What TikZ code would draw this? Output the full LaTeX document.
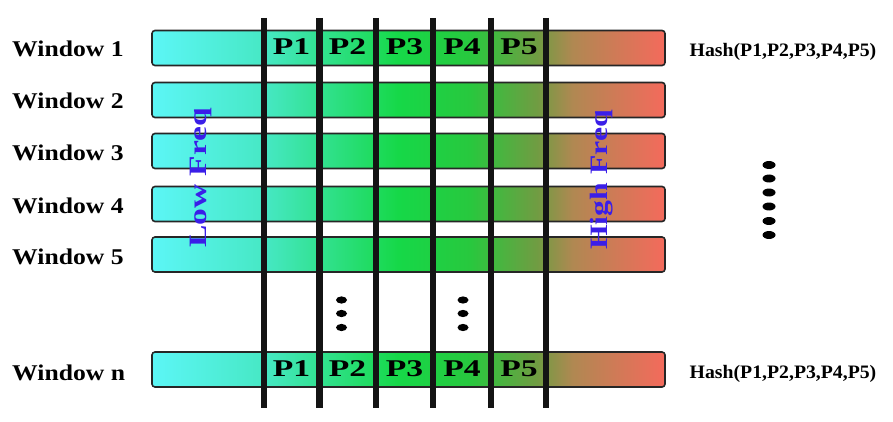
\documentclass[tikz,border=0pt]{standalone}
\usepackage{fontspec}
\setmainfont{Liberation Serif}
\definecolor{c0}{RGB}{92,246,246}
\definecolor{c1}{RGB}{70,232,196}
\definecolor{c2}{RGB}{22,216,72}
\definecolor{c3}{RGB}{40,200,62}
\definecolor{c4}{RGB}{112,156,66}
\definecolor{c5}{RGB}{176,136,82}
\definecolor{c6}{RGB}{244,106,92}
\definecolor{freqblue}{RGB}{58,30,232}
\pgfdeclarehorizontalshading{freq}{100bp}{color(0bp)=(c0); color(25bp)=(c0); color(36bp)=(c1); color(49bp)=(c2); color(56bp)=(c3); color(62.5bp)=(c4); color(66bp)=(c5); color(75bp)=(c6); color(100bp)=(c6)}
\begin{document}
\begin{tikzpicture}[x=1pt,y=-1pt,
  bar/.style={draw=black!85, line width=1.6pt, rounded corners=3pt, shade, shading=freq,
    minimum width=513pt, minimum height=35pt, inner sep=0pt},
  vline/.style={line width=6.5pt, black!92},
  winlab/.style={anchor=west, inner sep=0pt, font=\fontsize{22.5}{24}\selectfont\bfseries},
  plab/.style={inner sep=0pt, font=\fontsize{24}{26}\selectfont\bfseries},
  hashlab/.style={inner sep=0pt, font=\fontsize{19}{21}\selectfont\bfseries},
  freqlab/.style={inner sep=0pt, rotate=90, text=freqblue, font=\fontsize{25}{27}\selectfont\bfseries},
  dotbig/.style={fill=black, draw=none},
]
\useasboundingbox (0,0) rectangle (893,422);
% bars
\node[bar] (w1) at (408.5,48) {};
\node[bar] (w2) at (408.5,100) {};
\node[bar] (w3) at (408.5,151) {};
\node[bar] (w4) at (408.5,204) {};
\node[bar] (w5) at (408.5,254.5) {};
\node[bar] (wn) at (408.5,369.5) {};
% window labels
\node[winlab] (l1) at (12,49) {\scalebox{1.14}[1]{Window 1}};
\node[winlab] (l2) at (12,101) {\scalebox{1.14}[1]{Window 2}};
\node[winlab] (l3) at (12,153) {\scalebox{1.14}[1]{Window 3}};
\node[winlab] (l4) at (12,206) {\scalebox{1.14}[1]{Window 4}};
\node[winlab] (l5) at (12,257) {\scalebox{1.14}[1]{Window 5}};
\node[winlab] (ln) at (12,373) {\scalebox{1.14}[1]{Window n}};
% frequency labels
\node[freqlab] (lf) at (201,178) {\scalebox{1.34}[1]{Low Freq}};
\node[freqlab] (hf) at (602,180) {\scalebox{1.27}[1]{High Freq}};
% vertical lines
\foreach \x in {264,319.5,376,433,491,546}
  \draw[vline] (\x,18) -- (\x,408);
% P labels
\foreach \x/\t in {291.5/P1,347.5/P2,404.5/P3,462/P4,519/P5}{
  \node[plab] at (\x,47) {\scalebox{1.4}[1]{\t}};
  \node[plab] at (\x,369) {\scalebox{1.4}[1]{\t}};
}
% hash labels
\node[hashlab] (h1) at (783,52) {\scalebox{1.04}[1]{Hash(P1,P2,P3,P4,P5)}};
\node[hashlab] (hn) at (783,374) {\scalebox{1.04}[1]{Hash(P1,P2,P3,P4,P5)}};
% dots
\foreach \y in {300,313.5,327.5}{
  \fill[dotbig] (341.5,\y) ellipse (5.5pt and 3.6pt);
  \fill[dotbig] (463,\y) ellipse (5.5pt and 3.6pt);
}
\foreach \y in {165,178.5,192.5,206.5,221,235}
  \fill[dotbig] (769,\y) ellipse (6.5pt and 4pt);
\end{tikzpicture}
\end{document}
